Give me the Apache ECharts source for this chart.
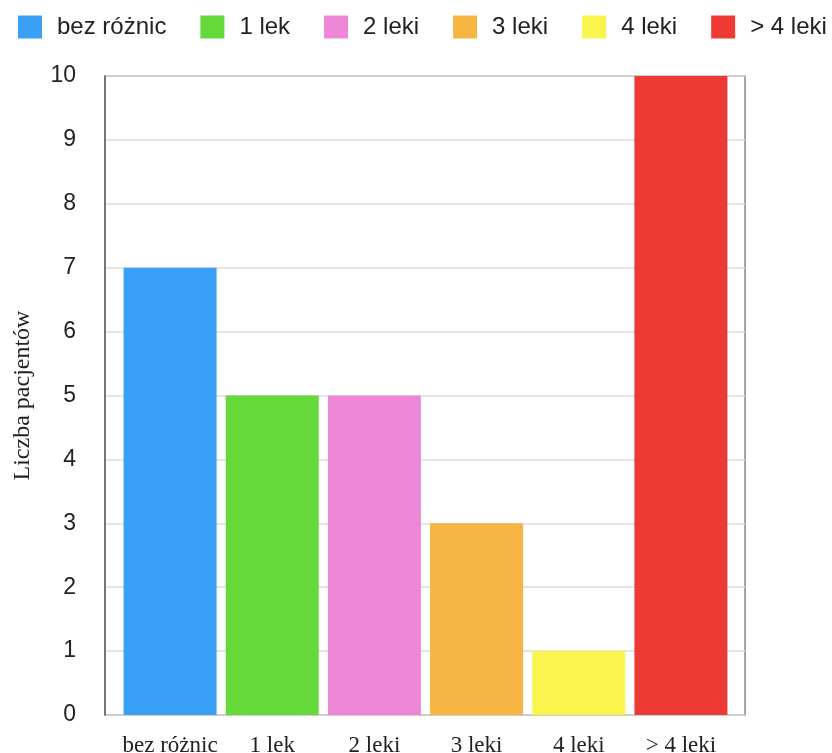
<!DOCTYPE html>
<html>
<head>
<meta charset="utf-8">
<script src="https://cdn.jsdelivr.net/npm/echarts@6/dist/echarts.min.js"></script>
<style>
  html, body { margin: 0; padding: 0; background: #fff; }
  #chart { width: 832px; height: 753px; }
</style>
</head>
<body>
<div id="chart"></div>
<script>
  // dane
  const categories = ["bez różnic", "1 lek", "2 leki", "3 leki", "4 leki", "> 4 leki"];
  const patientCounts = [7, 5, 5, 3, 1, 10];
  const barColors = ["#3A9FF7", "#65D83A", "#EE88D6", "#F6B443", "#FAF54E", "#EE3A35"];
  const yTicks = [0, 1, 2, 3, 4, 5, 6, 7, 8, 9, 10];

  const chart = echarts.init(document.getElementById("chart"));

  // one series per category so each one gets its own legend entry
  const series = categories.map((name, i) => ({
    name: name,
    type: "bar",
    xAxisIndex: 1,
    yAxisIndex: 1,
    barWidth: 93,
    barGap: "-100%",
    itemStyle: { color: barColors[i] },
    data: categories.map((c, j) => (j === i ? patientCounts[i] : "-")),
  }));

  chart.setOption({
    animation: false,
    textStyle: { fontFamily: "Liberation Sans, Arial, sans-serif" },
    legend: {
      top: 15,
      left: 18,
      width: 814,
      padding: 0,
      icon: "rect",
      itemWidth: 24,
      itemHeight: 23,
      itemGap: 34,
      textStyle: {
        fontSize: 24,
        color: "#222",
        padding: [0, 0, 0, 10],
      },
      data: categories,
    },
    grid: [
      {
        left: 105,
        right: 87,
        top: 76,
        bottom: 38,
        outerBoundsMode: "none",
        show: true,
        borderColor: "#888",
        borderWidth: 1.5,
      },
      {
        left: 119,
        right: 100,
        top: 76,
        bottom: 38,
        outerBoundsMode: "none",
      },
    ],
    xAxis: [
      {
        gridIndex: 0,
        type: "value",
        min: 0,
        max: 1,
        show: false,
      },
      {
        gridIndex: 1,
        type: "category",
        data: categories,
        axisLine: { show: false },
        axisTick: { show: false },
        axisLabel: {
          interval: 0,
          margin: 19,
          fontSize: 23,
          color: "#222",
          fontFamily: "Liberation Serif, Times New Roman, serif",
        },
      },
    ],
    yAxis: [
      {
        gridIndex: 0,
        type: "value",
        min: yTicks[0],
        max: yTicks[yTicks.length - 1],
        interval: 1,
        name: "Liczba pacjentów",
        nameLocation: "middle",
        nameRotate: 90,
        nameGap: 70,
        nameTextStyle: {
          fontSize: 24,
          color: "#222",
          fontFamily: "Liberation Serif, Times New Roman, serif",
        },
        axisLine: { show: true, lineStyle: { color: "#666", width: 1.5 } },
        axisTick: { show: false },
        axisLabel: { margin: 29, fontSize: 23, color: "#222", padding: [6, 0, 0, 0] },
        splitLine: { lineStyle: { color: "#DDD", width: 1.5 } },
      },
      {
        gridIndex: 1,
        type: "value",
        min: yTicks[0],
        max: yTicks[yTicks.length - 1],
        show: false,
      },
    ],
    series: series,
  });
</script>
</body>
</html>
